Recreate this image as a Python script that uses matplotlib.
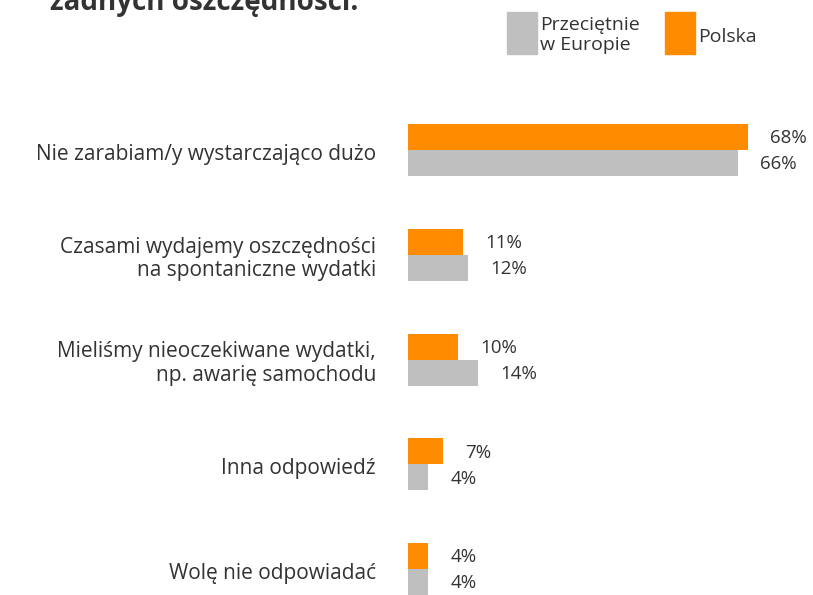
import matplotlib.pyplot as plt

categories = [
    "Nie zarabiam/y wystarczająco dużo",
    "Czasami wydajemy oszczędności\nna spontaniczne wydatki",
    "Mieliśmy nieoczekiwane wydatki,\nnp. awarię samochodu",
    "Inna odpowiedź",
    "Wolę nie odpowiadać",
]
polska = [68, 11, 10, 7, 4]
europa = [66, 12, 14, 4, 4]

ORANGE = "#FF8C00"
GREY = "#BFBFBF"
TEXT = "#333333"

plt.rcParams["font.family"] = ["Open Sans", "DejaVu Sans"]

W, H = 813, 595
fig = plt.figure(figsize=(W / 100, H / 100), dpi=100)

# axes: from the bars' left edge to the right border, full height
ax = fig.add_axes([408 / W, 0, 1 - 408 / W, 1])
ax.set_xlim(0, (W - 408) / 5.0)
step = 104.75
ax.set_ylim((H - 150) / step, -150 / step)
ax.axis("off")

bh = 26 / step
ys = list(range(len(categories)))
ax.barh([y - bh / 2 for y in ys], polska, height=bh, color=ORANGE)
ax.barh([y + bh / 2 for y in ys], europa, height=bh, color=GREY)

for y, p, e, cat in zip(ys, polska, europa, categories):
    ax.annotate(f"{p}%", (p, y - bh / 2), xytext=(16, -1), textcoords="offset points",
                va="center", ha="left", fontsize=13.5, color=TEXT)
    ax.annotate(f"{e}%", (e, y + bh / 2), xytext=(16, -1), textcoords="offset points",
                va="center", ha="left", fontsize=13.5, color=TEXT)
    ax.annotate(cat, (0, y), xytext=(-23, -3), textcoords="offset points",
                va="center", ha="right", fontsize=15, color=TEXT,
                multialignment="right", linespacing=1.15)

# title, cut off at top
fig.text(50 / W, 1 - 10 / H, "żadnych oszczędności.", fontsize=20, fontweight="bold",
         color=TEXT, va="baseline", ha="left")

# legend
fig.patches.append(plt.Rectangle((507 / W, 1 - 54 / H), 30 / W, 42 / H,
                                 transform=fig.transFigure, color=GREY))
fig.text(540 / W, 1 - 35 / H, "Przeciętnie\nw Europie", fontsize=14, color=TEXT,
         va="center", ha="left", linespacing=1.2)
fig.patches.append(plt.Rectangle((665 / W, 1 - 54 / H), 30 / W, 42 / H,
                                 transform=fig.transFigure, color=ORANGE))
fig.text(698 / W, 1 - 37 / H, "Polska", fontsize=14, color=TEXT,
         va="center", ha="left")

fig.savefig("out.png", dpi=100)
